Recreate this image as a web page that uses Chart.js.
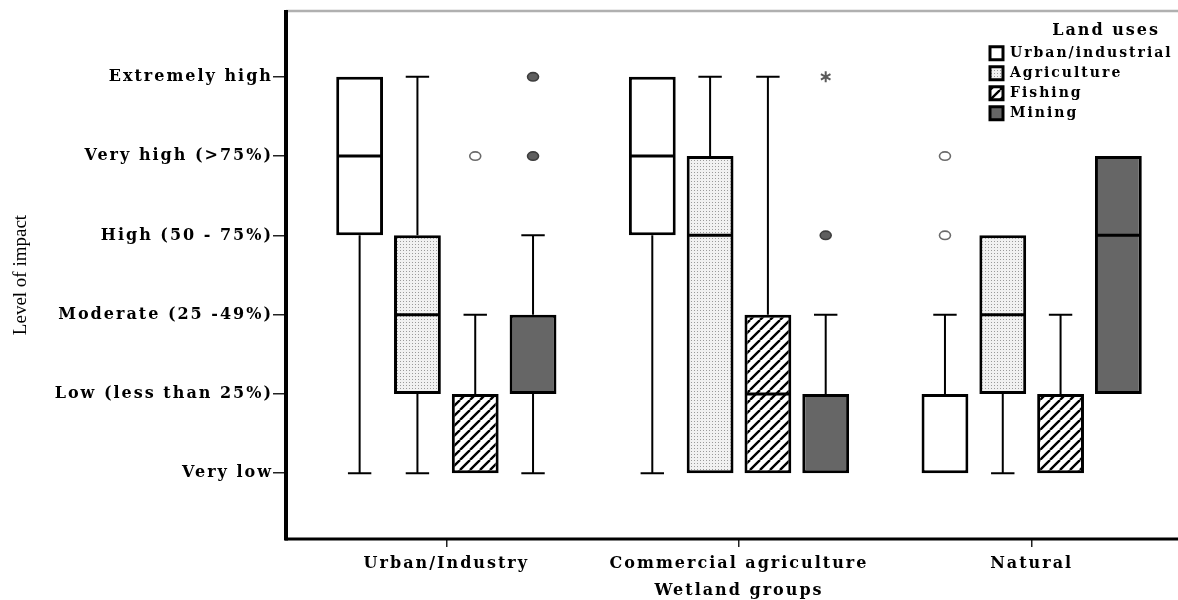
<!DOCTYPE html>
<html>
<head>
<meta charset="utf-8">
<title>Level of impact by wetland group and land use</title>
<style>
  html, body { margin: 0; padding: 0; background: #ffffff; overflow: hidden; }
  canvas { display: block; }
</style>
<script src="https://cdn.jsdelivr.net/npm/chart.js@4.4.1/dist/chart.umd.min.js"></script>
</head>
<body>
<canvas id="impactChart" width="1178" height="600"></canvas>
<script>
// ---- categories and tick labels ----
const wetlandGroups = ['Urban/Industry', 'Commercial agriculture', 'Natural'];
const landUses = ['Urban/industrial', 'Agriculture', 'Fishing', 'Mining'];
const impactLevels = ['Very low', 'Low (less than 25%)', 'Moderate (25 -49%)',
                      'High (50 - 75%)', 'Very high (>75%)', 'Extremely high'];

// ---- box summaries, one value per wetland group (1 = Very low ... 6 = Extremely high) ----
const urbanMin    = [1, 1, 1];
const urbanQ1     = [4, 4, 1];
const urbanMedian = [5, 5, 1];
const urbanQ3     = [6, 6, 2];
const urbanMax    = [6, 6, 3];
const urbanOutliers = [[], [], [4, 5]];
const urbanExtremes = [[], [], []];

const agricultureMin    = [1, 1, 1];
const agricultureQ1     = [2, 1, 2];
const agricultureMedian = [3, 4, 3];
const agricultureQ3     = [4, 5, 4];
const agricultureMax    = [6, 6, 4];
const agricultureOutliers = [[], [], []];
const agricultureExtremes = [[], [], []];

const fishingMin    = [1, 1, 1];
const fishingQ1     = [1, 1, 1];
const fishingMedian = [1, 2, 1];
const fishingQ3     = [2, 3, 2];
const fishingMax    = [3, 6, 3];
const fishingOutliers = [[5], [], []];
const fishingExtremes = [[], [], []];

const miningMin    = [1, 1, 2];
const miningQ1     = [2, 1, 2];
const miningMedian = [2, 1, 4];
const miningQ3     = [3, 2, 5];
const miningMax    = [4, 3, 5];
const miningOutliers = [[5, 6], [4], []];
const miningExtremes = [[], [6], []];

// ---- fills ----
function makePattern(w, h, paint) {
  const tile = document.createElement('canvas');
  tile.width = w; tile.height = h;
  const g = tile.getContext('2d');
  paint(g, w, h);
  return g.createPattern(tile, 'repeat');
}
const stippleFill = makePattern(3, 3, (g, w, h) => {
  g.fillStyle = '#f1f1f1'; g.fillRect(0, 0, w, h);
  g.fillStyle = '#9a9a9a'; g.fillRect(1, 1, 1, 1);
});
const hatchFill = makePattern(10, 10, (g, s) => {
  g.fillStyle = '#ffffff'; g.fillRect(0, 0, s, s);
  g.strokeStyle = '#000000'; g.lineWidth = 2.4;
  g.beginPath();
  for (let k = -1; k <= 1; k++) { g.moveTo(k * s, s); g.lineTo(k * s + s, 0); }
  g.stroke();
});
const boxFills = ['#ffffff', stippleFill, hatchFill, '#666666'];
const outlierFills = ['#ffffff', '#ffffff', '#ffffff', '#5e5e5e'];

const summaries = [
  { min: urbanMin, q1: urbanQ1, med: urbanMedian, q3: urbanQ3, max: urbanMax, out: urbanOutliers, ext: urbanExtremes },
  { min: agricultureMin, q1: agricultureQ1, med: agricultureMedian, q3: agricultureQ3, max: agricultureMax, out: agricultureOutliers, ext: agricultureExtremes },
  { min: fishingMin, q1: fishingQ1, med: fishingMedian, q3: fishingQ3, max: fishingMax, out: fishingOutliers, ext: fishingExtremes },
  { min: miningMin, q1: miningQ1, med: miningMedian, q3: miningQ3, max: miningMax, out: miningOutliers, ext: miningExtremes }
];

const TEXT_SPACING = '2px';
const SERIF_BOLD = "'DejaVu Serif', 'Liberation Serif', serif";

// whiskers, medians, outliers and the axis frame, all placed through the chart scales
const boxPlotParts = {
  id: 'boxPlotParts',
  beforeUpdate(chart) { chart.ctx.letterSpacing = TEXT_SPACING; },
  afterLayout(chart) {
    const area = chart.chartArea;
    const xs = chart.scales.x;
    xs.left = area.left + 14;
    xs.right = area.right;
    xs.width = xs.right - xs.left;
    xs.configure();
    // legend sits in the top-right corner of the plot frame;
    // its width sets where the right-aligned title ends, its right edge bounds the clip
    const lg = chart.legend;
    lg.left = area.right - 194;
    lg.width = 176;
    lg.right = area.right;
    lg.top = area.top;
    lg.bottom = area.bottom;
  },
  beforeDraw(chart) { chart.ctx.letterSpacing = TEXT_SPACING; },
  beforeDatasetsDraw(chart) {
    const { ctx, chartArea: a, scales: { y } } = chart;
    ctx.save();
    // frame
    ctx.strokeStyle = '#b0b0b0'; ctx.lineWidth = 2.5;
    ctx.beginPath(); ctx.moveTo(a.left, a.top); ctx.lineTo(a.right, a.top); ctx.stroke();
    ctx.strokeStyle = '#000000'; ctx.lineWidth = 3;
    ctx.beginPath(); ctx.moveTo(a.left - 1, a.bottom); ctx.lineTo(a.right, a.bottom); ctx.stroke();
    ctx.lineWidth = 4;
    ctx.beginPath(); ctx.moveTo(a.left, a.top - 1); ctx.lineTo(a.left, a.bottom + 1.5); ctx.stroke();
    // whiskers
    ctx.strokeStyle = '#000000'; ctx.lineWidth = 2;
    summaries.forEach((s, d) => {
      chart.getDatasetMeta(d).data.forEach((bar, i) => {
        const cap = bar.width / 4;
        const segs = [[s.q3[i], s.max[i]], [s.q1[i], s.min[i]]];
        segs.forEach(([from, to]) => {
          if (from === to) return;
          const y0 = y.getPixelForValue(from), y1 = y.getPixelForValue(to);
          ctx.beginPath();
          ctx.moveTo(bar.x, y0); ctx.lineTo(bar.x, y1);
          ctx.moveTo(bar.x - cap, y1); ctx.lineTo(bar.x + cap, y1);
          ctx.stroke();
        });
      });
    });
    ctx.restore();
  },
  afterDatasetsDraw(chart) {
    const { ctx, scales: { y } } = chart;
    ctx.save();
    summaries.forEach((s, d) => {
      chart.getDatasetMeta(d).data.forEach((bar, i) => {
        const half = bar.width / 2;
        // median (a median on a box edge is already shown by the edge)
        if (s.med[i] !== s.q1[i] && s.med[i] !== s.q3[i]) {
          const ym = y.getPixelForValue(s.med[i]);
          ctx.strokeStyle = '#000000'; ctx.lineWidth = 3;
          ctx.beginPath(); ctx.moveTo(bar.x - half + 1, ym); ctx.lineTo(bar.x + half - 1, ym); ctx.stroke();
        }
        // outliers
        s.out[i].forEach(v => {
          const yo = y.getPixelForValue(v);
          ctx.beginPath();
          ctx.ellipse(bar.x, yo, 5.5, 4.2, 0, 0, Math.PI * 2);
          ctx.fillStyle = outlierFills[d]; ctx.fill();
          ctx.strokeStyle = d === 3 ? '#3c3c3c' : '#6a6a6a'; ctx.lineWidth = 1.6; ctx.stroke();
        });
        // extremes
        s.ext[i].forEach(v => {
          const ye = y.getPixelForValue(v);
          ctx.strokeStyle = '#5a5a5a'; ctx.lineWidth = 2;
          ctx.beginPath();
          for (let k = 0; k < 3; k++) {
            const ang = Math.PI / 2 + k * Math.PI / 3;
            const dx = Math.cos(ang) * 5.5, dy = Math.sin(ang) * 5.5;
            ctx.moveTo(bar.x - dx, ye - dy); ctx.lineTo(bar.x + dx, ye + dy);
          }
          ctx.stroke();
        });
      });
    });
    ctx.restore();
  },
  afterDraw(chart) {
    const { ctx, chartArea: a } = chart;
    ctx.save();
    ctx.letterSpacing = '0px';
    ctx.translate(21, (a.top + a.bottom) / 2);
    ctx.rotate(-Math.PI / 2);
    ctx.font = "19px 'Liberation Serif', serif";
    ctx.fillStyle = '#000000';
    ctx.textAlign = 'center'; ctx.textBaseline = 'middle';
    ctx.fillText('Level of impact', 0, 0);
    ctx.restore();
  }
};

const datasets = landUses.map((name, d) => ({
  label: name,
  data: wetlandGroups.map((_, i) => [summaries[d].q1[i], summaries[d].q3[i]]),
  backgroundColor: boxFills[d],
  borderColor: '#000000',
  borderWidth: 3,
  borderSkipped: false,
  categoryPercentage: 0.79,
  barPercentage: 0.81
}));

new Chart(document.getElementById('impactChart'), {
  type: 'bar',
  data: { labels: wetlandGroups, datasets },
  options: {
    responsive: false,
    animation: false,
    events: [],
    layout: { padding: { top: 11, right: 0, bottom: 0, left: 0 } },
    plugins: {
      tooltip: { enabled: false },
      legend: {
        position: 'chartArea',
        align: 'start',
        title: {
          display: true, text: 'Land uses', position: 'end',
          color: '#000000',
          font: { family: SERIF_BOLD, size: 16, weight: 'bold' },
          padding: { top: 12, bottom: -2 }
        },
        labels: {
          color: '#000000',
          boxWidth: 13, boxHeight: 13, padding: 6,
          font: { family: SERIF_BOLD, size: 14, weight: 'bold' }
        }
      }
    },
    scales: {
      x: {
        type: 'category',
        offset: true,
        border: { display: false },
        grid: { offset: false, drawOnChartArea: false, drawTicks: true, tickLength: 8, color: '#222222', lineWidth: 1.5 },
        ticks: { color: '#000000', padding: 7, font: { family: SERIF_BOLD, size: 16, weight: 'bold' } },
        title: {
          display: true, text: 'Wetland groups', color: '#000000',
          font: { family: SERIF_BOLD, size: 16, weight: 'bold' },
          padding: { top: 0, bottom: 0 }
        },
        afterFit(s) { s.height = 61; }
      },
      y: {
        type: 'linear',
        min: 0.17,
        max: 6.83,
        border: { display: false },
        grid: { drawOnChartArea: false, drawTicks: true, tickLength: 13, color: '#222222', lineWidth: 1.5 },
        afterBuildTicks(s) { s.ticks = impactLevels.map((_, k) => ({ value: k + 1 })); },
        ticks: {
          color: '#000000', padding: 0,
          font: { family: SERIF_BOLD, size: 16, weight: 'bold' },
          callback: (value) => impactLevels[Math.round(value) - 1]
        },
        afterFit(s) { s.width = 286; }
      }
    }
  },
  plugins: [boxPlotParts]
});
</script>
</body>
</html>
